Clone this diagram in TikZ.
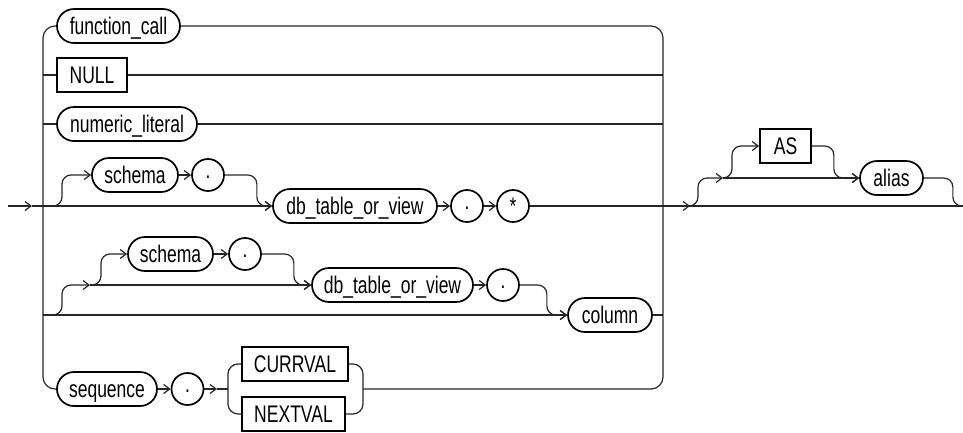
\documentclass[tikz,border=0pt]{standalone}
\usepackage{fontspec}
\newfontfamily\rrfont[FakeStretch=0.73]{Liberation Sans}
\usetikzlibrary{arrows.meta}
\tikzset{
  rr/.style={line width=1.2pt, draw=black!85},
  arr/.style={rr, -{Straight Barb[length=6pt,width=9pt,line width=1.2pt]}},
  rc/.style={rounded corners=9pt},
  nodebase/.style={draw=black, line width=1.7pt, font=\rrfont\fontsize{24}{24}\selectfont, inner sep=0pt, minimum height=34pt, text height=17pt, text depth=0pt},
  pill/.style={nodebase, rectangle, rounded corners=17pt},
  kw/.style={nodebase, rectangle},
  circ/.style={nodebase, circle, minimum size=32pt},
  dotc/.style={circ, text height=6pt},
  starc/.style={circ, text height=17.5pt},
}
\begin{document}
\begin{tikzpicture}[x=1pt,y=-1pt]
\useasboundingbox (0,0) rectangle (963,432);
% nodes
\node[pill, minimum width=123pt] (fc) at (118.5,26) {function\_call};
\node[kw, minimum width=70pt] (null) at (92,75) {NULL};
\node[pill, minimum width=140pt] (numlit) at (127,124) {numeric\_literal};
\node[pill, minimum width=86pt] (schA) at (135,175) {schema};
\node[dotc] (dotA) at (208,175) {.};
\node[pill, minimum width=164pt] (dbA) at (355,206) {db\_table\_or\_view};
\node[dotc] (dotB) at (467,206) {.};
\node[starc] (star) at (513,206) {*};
\node[pill, minimum width=85pt] (schB) at (170.5,254) {schema};
\node[dotc] (dotC) at (245,254) {.};
\node[pill, minimum width=161pt] (dbB) at (392.5,285) {db\_table\_or\_view};
\node[dotc] (dotD) at (503,285) {.};
\node[pill, minimum width=84pt] (col) at (610,315) {column};
\node[pill, minimum width=100pt] (seq) at (107,389) {sequence};
\node[dotc] (dotS) at (187.5,389) {.};
\node[kw, minimum width=106pt] (curr) at (295,364) {CURRVAL};
\node[kw, minimum width=103pt] (next) at (293.5,414) {NEXTVAL};
\node[kw, minimum width=51pt] (as) at (785.5,146) {AS};
\node[pill, minimum width=63pt] (alias) at (891.5,178) {alias};
% junction coordinates
\coordinate (start) at (8,206);
\coordinate (in) at (32,206);
\coordinate (L) at (43,206);
\coordinate (R) at (663,206);
\coordinate (end) at (963,206);
\coordinate (Ltop) at (43,26);
\coordinate (Lbot) at (43,389);
\coordinate (Rtop) at (663,26);
\coordinate (Rbot) at (663,389);
\coordinate (L5) at (43,315);
\coordinate (R5) at (663,315);
\coordinate (a5) at (90,285);
\coordinate (a6) at (217,389);
\coordinate (jL) at (228,389);
\coordinate (jS) at (363,389);
\coordinate (a7) at (690,206);
\coordinate (b7) at (723,178);
% entry and bars
\draw[arr] (start) -- (in);
\draw[rr] (in) -- (L);
\draw[rr, rounded corners=12pt] (fc.west) -- (Ltop) -- (Lbot) -- (seq.west);
\draw[rr, rounded corners=12pt] (fc.east) -- (Rtop) -- (Rbot) -- (jS);
% rows 2,3
\draw[rr] (L |- null) -- (null.west);
\draw[rr] (null.east) -- (R |- null);
\draw[rr] (L |- numlit) -- (numlit.west);
\draw[rr] (numlit.east) -- (R |- numlit);
% row 4
\draw[arr] (L) -- (dbA.west);
\draw[arr, rc] ([xshift=10pt]L) -- ([xshift=19pt]L) |- (schA.west);
\draw[arr] (schA) -- (dotA);
\draw[arr, rc] (dotA.east) -- ++(32,0) |- (dbA.west);
\draw[arr] (dbA) -- (dotB);
\draw[arr] (dotB) -- (star);
\draw[rr] (star.east) -- (R);
% row 5
\draw[arr] (L5) -- (col.west);
\draw[arr, rc] ([xshift=10pt]L5) -- ([xshift=19pt]L5) |- (a5);
\draw[arr] (a5) -- (dbB.west);
\draw[arr, rc] (a5) -- ++(11,0) |- (schB.west);
\draw[arr] (schB) -- (dotC);
\draw[arr, rc] (dotC.east) -- ++(32,0) |- (dbB.west);
\draw[arr] (dbB) -- (dotD);
\draw[arr, rc] (dotD.east) -- ++(27,0) |- (col.west);
\draw[rr] (col.east) -- (R5);
% row 6
\draw[arr] (seq) -- (dotS);
\draw[arr] (dotS.east) -- (a6);
\draw[rr] (a6) -- (jL);
\draw[rr, rounded corners=10pt] (curr.west) -| (jL) |- (next.west);
\draw[rr, rounded corners=10pt] (curr.east) -| (jS) |- (next.east);
% right part
\draw[rr] (R) -- (end);
\draw[arr] (R) -- (a7);
\draw[arr, rc] (a7) -- ++(8,0) |- (b7);
\draw[arr] (b7) -- (alias.west);
\draw[arr, rc] (b7) -- ++(9,0) |- (as.west);
\draw[arr, rc] (as.east) -- ++(22,0) |- (alias.west);
\draw[rr, rc] (alias.east) -- ++(29,0) |- (end);
\end{tikzpicture}
\end{document}
